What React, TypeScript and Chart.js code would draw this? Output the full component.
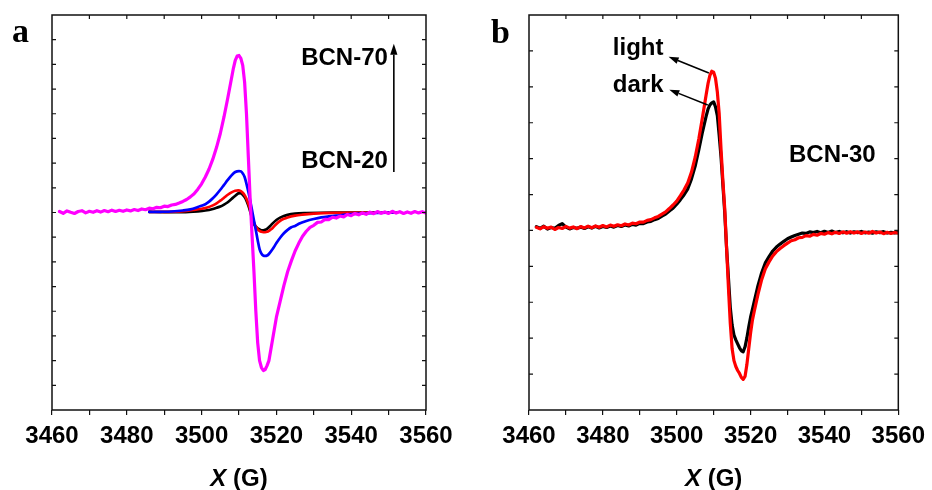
import React, { useEffect, useRef } from 'react';
import { Chart, registerables } from 'chart.js';

Chart.register(...registerables);

// ---------------- data ----------------
const X_MIN = 3460;
const X_MAX = 3560;
const X_TICK_STEP = 10;
const X_LABEL_STEP = 20;
const Y_MIN = -100;
const Y_MAX = 100;
const A_Y_DIVS = 16;
const B_Y_DIVS = 11;

type Pt = [number, number];

// panel a: BCN-70 (magenta)
const BCN70: Pt[] = [
  [3462, 0.5], [3463, -0.4], [3464, 0.8], [3465, 0.1], [3466, -0.5], [3467, 0.5], [3468, 0.9], [3469, -0.2],
  [3470, 0.6], [3471, 0.1], [3472, 0.9], [3473, 0.2], [3474, 1.0], [3475, 0.4], [3476, 1.2], [3477, 0.5],
  [3478, 1.1], [3479, 0.6], [3480, 1.3], [3481, 0.8], [3482, 1.5], [3483, 1.0], [3484, 1.8], [3485, 1.4],
  [3486, 2.2], [3487, 1.9], [3488, 2.6], [3489, 2.4], [3490, 3.2], [3491, 3.0], [3492, 3.8], [3493, 4.1],
  [3494, 4.8], [3495, 5.6], [3496, 6.6], [3497, 7.9], [3498, 9.5], [3499, 11.8], [3500, 14.5], [3501, 18],
  [3502, 22], [3503, 27], [3504, 33], [3505, 40], [3506, 48.5], [3507, 58], [3508, 68], [3508.5, 73],
  [3509, 77], [3509.5, 79.2], [3510, 79.5], [3510.5, 78], [3511, 74.5], [3511.5, 66], [3512, 50], [3512.5, 28],
  [3513, 6], [3513.5, -12], [3514, -30], [3514.5, -50], [3515, -66], [3515.5, -75], [3516, -78.5], [3516.5, -80],
  [3517, -79.5], [3517.5, -77.5], [3518, -75], [3519, -64], [3520, -53], [3521, -45], [3522, -37], [3523, -30],
  [3524, -24.5], [3525, -19.5], [3526, -15.5], [3527, -12], [3528, -9.5], [3529, -7.5], [3530, -6.5], [3531, -5],
  [3532, -4.8], [3533, -3.5], [3534, -3.6], [3535, -2.4], [3536, -2.8], [3537, -1.8], [3538, -2.2], [3539, -1.0],
  [3540, -1.6], [3541, -0.5], [3542, -1.2], [3543, -0.2], [3544, -0.9], [3545, 0.2], [3546, -0.6], [3547, 0.5],
  [3548, -0.4], [3549, 0.3], [3550, -0.5], [3551, 0.6], [3552, -0.3], [3553, 0.4], [3554, -0.5], [3555, 0.3],
  [3556, -0.4], [3557, 0.5], [3558, -0.2], [3559, 0.4], [3560, -0.3],
];

// panel a: blue sample
const BLUE_A: Pt[] = [
  [3486, 0.3], [3489, 0.35], [3492, 0.5], [3495, 1.0], [3497, 1.6], [3499, 2.8], [3501, 4.2], [3502, 5.5],
  [3503, 7.2], [3504, 9.2], [3505, 11.5], [3506, 14], [3507, 16.5], [3508, 18.8], [3509, 20.5], [3510, 21],
  [3510.5, 20.8], [3511, 19.8], [3511.5, 18], [3512, 14.5], [3512.5, 10.5], [3513, 6], [3513.5, 1], [3514, -4],
  [3514.5, -9], [3515, -14], [3515.5, -18.5], [3516, -20.8], [3516.5, -21.8], [3517, -22], [3517.5, -21.8], [3518, -21],
  [3519, -18.5], [3520, -15.5], [3521, -12.8], [3522, -10.5], [3523, -8.8], [3524, -7.5], [3525, -6.8], [3526, -5.7],
  [3528, -4.3], [3530, -3.3], [3532, -2.5], [3534, -2], [3537, -1.4], [3540, -0.8], [3545, -0.3], [3552, 0],
];

// panel a: red sample
const RED_A: Pt[] = [
  [3486, 0.3], [3489, 0.3], [3493, 0.4], [3496, 0.8], [3498, 1.3], [3500, 1.9], [3501.5, 2.5], [3503, 3.6],
  [3504, 4.6], [3505, 6], [3506, 7.5], [3507, 9], [3508, 10.2], [3509, 11], [3509.8, 11.2], [3510.5, 10.8],
  [3511, 10], [3511.5, 8.8], [3512, 7], [3512.5, 4.5], [3513, 1.5], [3513.5, -2], [3514, -5], [3514.5, -7.2],
  [3515, -8.5], [3515.5, -9.3], [3516, -9.8], [3516.5, -10], [3517, -10], [3517.5, -9.8], [3518, -9.3], [3518.5, -8.6],
  [3519, -7.8], [3520, -5.8], [3521, -4.2], [3522, -3.2], [3523, -2.5], [3525, -1.6], [3527, -1.1], [3530, -0.6],
  [3535, -0.2], [3552, 0],
];

// panel a: black sample (BCN-20)
const BLACK_A: Pt[] = [
  [3486, 0.3], [3490, 0.2], [3495, 0.2], [3499, 0.6], [3501, 1.0], [3503, 1.8], [3504, 2.4], [3505, 3.0],
  [3506, 4.0], [3507, 5.2], [3508, 6.8], [3509, 8.5], [3509.8, 9.7], [3510.3, 9.8], [3511, 9], [3511.5, 7.8],
  [3512, 6], [3512.5, 3.5], [3513, 0.5], [3513.5, -3], [3514, -5.8], [3514.5, -7.2], [3515, -8], [3515.5, -8.6],
  [3516, -9], [3516.5, -9], [3517, -8.8], [3517.5, -8.3], [3518, -7.5], [3518.5, -6.5], [3519, -5.5], [3520, -3.8],
  [3521, -2.6], [3522, -1.8], [3523, -1.2], [3525, -0.6], [3528, -0.3], [3535, 0], [3552, 0],
];

// panel b: BCN-30 light (red)
const LIGHT_B: Pt[] = [
  [3462, -7.5], [3463, -8.3], [3464, -7.2], [3465, -8.0], [3466, -7.4], [3467, -8.6], [3468, -7.6], [3469, -8.1],
  [3470, -7.0], [3471, -7.9], [3472, -7.3], [3473, -8.2], [3474, -7.1], [3475, -7.8], [3476, -6.9], [3477, -7.7],
  [3478, -6.8], [3479, -7.5], [3480, -6.6], [3481, -7.3], [3482, -6.4], [3483, -7.0], [3484, -6.2], [3485, -6.7],
  [3486, -5.8], [3487, -6.3], [3488, -5.4], [3489, -5.7], [3490, -4.8], [3491, -4.9], [3492, -4.0], [3493, -3.6],
  [3494, -2.7], [3495, -2.0], [3496, -0.8], [3497, 0.3], [3498, 2.0], [3499, 3.8], [3500, 5.8], [3501, 8.5],
  [3502, 11.5], [3503, 15], [3504, 20.5], [3505, 28], [3506, 37.5], [3507, 48.5], [3508, 60], [3508.5, 65.5],
  [3509, 69.5], [3509.5, 71.5], [3510, 71], [3510.5, 68], [3511, 61], [3511.5, 50], [3512, 32], [3512.5, 16],
  [3513, 2], [3513.5, -18], [3514, -38], [3514.5, -56], [3515, -69], [3515.5, -75], [3516, -78], [3516.5, -80],
  [3517, -81.5], [3517.5, -83.5], [3518, -84.5], [3518.5, -83], [3519, -77], [3519.5, -69], [3520, -61], [3520.5, -54.5],
  [3521, -50], [3522, -41.5], [3523, -34], [3524, -28.5], [3525, -25], [3526, -22], [3527, -19.8], [3528, -18.2],
  [3529, -16.8], [3530, -15.5], [3531, -14.3], [3532, -13.8], [3533, -12.8], [3534, -12.6], [3535, -11.7], [3536, -12.0],
  [3537, -11.1], [3538, -11.5], [3539, -10.6], [3540, -11.0], [3541, -10.2], [3542, -10.8], [3543, -10.0], [3544, -10.6],
  [3545, -9.8], [3546, -10.5], [3547, -9.7], [3548, -10.4], [3549, -9.8], [3550, -10.6], [3551, -9.9], [3552, -10.5],
  [3553, -9.6], [3554, -10.4], [3555, -9.9], [3556, -10.7], [3557, -10.0], [3558, -10.6], [3559, -10.1], [3560, -10.5],
];

// panel b: BCN-30 dark (black)
const DARK_B: Pt[] = [
  [3462, -7.2], [3463, -8.0], [3464, -6.9], [3465, -8.4], [3466, -7.6], [3467, -8.0], [3468, -6.6], [3469, -5.6],
  [3470, -7.4], [3471, -8.3], [3472, -7.6], [3473, -8.0], [3474, -7.4], [3475, -8.1], [3476, -7.2], [3477, -7.9],
  [3478, -7.0], [3479, -7.8], [3480, -7.1], [3481, -7.6], [3482, -6.8], [3483, -7.4], [3484, -6.6], [3485, -7.1],
  [3486, -6.3], [3487, -6.8], [3488, -6.0], [3489, -6.4], [3490, -5.5], [3491, -5.6], [3492, -4.8], [3493, -4.5],
  [3494, -3.6], [3495, -3.0], [3496, -1.8], [3497, -0.8], [3498, 0.8], [3499, 2.2], [3500, 4.2], [3501, 6.5],
  [3502, 9], [3503, 12], [3504, 17], [3505, 23.5], [3506, 32], [3507, 41], [3508, 49], [3508.5, 52.5],
  [3509, 54.5], [3509.5, 55.5], [3510, 56], [3510.5, 53.5], [3511, 49], [3511.5, 39], [3512, 28], [3512.5, 14],
  [3513, 0], [3513.5, -18], [3514, -33], [3514.5, -48], [3515, -57], [3515.5, -62], [3516, -64.5], [3516.5, -66.5],
  [3517, -68.5], [3517.5, -70], [3518, -70.5], [3518.5, -68], [3519, -63.5], [3519.5, -58], [3520, -53], [3520.5, -49],
  [3521, -45], [3522, -37], [3523, -30.5], [3524, -25.5], [3525, -22.3], [3526, -19.5], [3527, -17.5], [3528, -16],
  [3529, -14.6], [3530, -13.3], [3531, -12.4], [3532, -11.6], [3533, -11.0], [3534, -10.4], [3535, -10.6], [3536, -9.8],
  [3537, -10.2], [3538, -9.6], [3539, -10.3], [3540, -9.5], [3541, -10.1], [3542, -9.4], [3543, -10.2], [3544, -9.6],
  [3545, -10.3], [3546, -9.7], [3547, -10.4], [3548, -9.8], [3549, -10.2], [3550, -9.6], [3551, -10.3], [3552, -9.9],
  [3553, -10.5], [3554, -9.8], [3555, -10.2], [3556, -9.7], [3557, -10.4], [3558, -10.0], [3559, -10.3], [3560, -10.1],
];

// ---------------- styling / layout ----------------
const SANS = '"Liberation Sans", Arial, Helvetica, sans-serif';
const SERIF = '"Liberation Serif", "Times New Roman", serif';
const TEXT_SIZE = 24;
const FRAME = '#111111';

type TextItem = { text: string; x: number; y: number; align: CanvasTextAlign };
type ArrowItem = { from: Pt; to: Pt; head: number };

interface PanelSpec {
  letter: string;
  letterX: number;
  letterY: number;
  padLeft: number;
  padRight: number;
  yDivs: number;
  texts: TextItem[];
  arrows: ArrowItem[];
  datasets: { data: Pt[]; color: string; width: number; noisy: boolean }[];
}

const PANEL_A: PanelSpec = {
  letter: 'a',
  letterX: 12,
  letterY: 42,
  padLeft: 52,
  padRight: 40,
  yDivs: A_Y_DIVS,
  texts: [
    { text: 'BCN-70', x: 3549.8, y: 74.7, align: 'right' },
    { text: 'BCN-20', x: 3549.8, y: 22.5, align: 'right' },
  ],
  arrows: [{ from: [3551.4, 20.5], to: [3551.4, 85.5], head: 11 }],
  datasets: [
    { data: BCN70, color: '#FF00FF', width: 3.2, noisy: true },
    { data: BLUE_A, color: '#0000FF', width: 2.7, noisy: false },
    { data: RED_A, color: '#FF0000', width: 2.7, noisy: false },
    { data: BLACK_A, color: '#000000', width: 2.7, noisy: false },
  ],
};

const PANEL_B: PanelSpec = {
  letter: 'b',
  letterX: 25,
  letterY: 43,
  padLeft: 63,
  padRight: 29,
  yDivs: B_Y_DIVS,
  texts: [
    { text: 'light', x: 3482.7, y: 79.7, align: 'left' },
    { text: 'dark', x: 3482.7, y: 61, align: 'left' },
    { text: 'BCN-30', x: 3530.4, y: 25.6, align: 'left' },
  ],
  arrows: [
    { from: [3508.7, 70.6], to: [3497.8, 78.8], head: 10 },
    { from: [3508.4, 54.4], to: [3498.0, 62.2], head: 10 },
  ],
  datasets: [
    { data: LIGHT_B, color: '#FF0000', width: 3.2, noisy: true },
    { data: DARK_B, color: '#000000', width: 3.2, noisy: true },
  ],
};

function drawArrow(ctx: CanvasRenderingContext2D, x1: number, y1: number, x2: number, y2: number, head: number) {
  const ang = Math.atan2(y2 - y1, x2 - x1);
  const hw = head * 0.33;
  const bx = x2 - head * Math.cos(ang);
  const by = y2 - head * Math.sin(ang);
  ctx.beginPath();
  ctx.moveTo(x1, y1);
  ctx.lineTo(bx, by);
  ctx.stroke();
  ctx.beginPath();
  ctx.moveTo(x2, y2);
  ctx.lineTo(bx + hw * Math.sin(ang), by - hw * Math.cos(ang));
  ctx.lineTo(bx - hw * Math.sin(ang), by + hw * Math.cos(ang));
  ctx.closePath();
  ctx.fill();
}

function makeDecor(spec: PanelSpec) {
  return {
    id: 'decor',
    afterDatasetsDraw(chart: any) {
      const { ctx, chartArea: a, scales } = chart;
      const xs = scales.x;
      const ys = scales.y;
      ctx.save();
      // frame
      ctx.strokeStyle = FRAME;
      ctx.lineWidth = 1.5;
      ctx.strokeRect(a.left, a.top, a.right - a.left, a.bottom - a.top);
      // inward ticks
      ctx.lineWidth = 1.2;
      ctx.beginPath();
      for (let v = X_MIN + X_TICK_STEP; v < X_MAX; v += X_TICK_STEP) {
        const px = xs.getPixelForValue(v);
        ctx.moveTo(px, a.top);
        ctx.lineTo(px, a.top + 4);
      }
      const step = (Y_MAX - Y_MIN) / spec.yDivs;
      for (let k = 1; k < spec.yDivs; k++) {
        const py = ys.getPixelForValue(Y_MIN + k * step);
        ctx.moveTo(a.left, py);
        ctx.lineTo(a.left + 4, py);
        ctx.moveTo(a.right, py);
        ctx.lineTo(a.right - 4, py);
      }
      ctx.stroke();

      // annotations
      ctx.fillStyle = '#000';
      ctx.strokeStyle = '#000';
      ctx.font = `bold ${TEXT_SIZE}px ${SANS}`;
      ctx.textBaseline = 'alphabetic';
      for (const t of spec.texts) {
        ctx.textAlign = t.align;
        ctx.fillText(t.text, xs.getPixelForValue(t.x), ys.getPixelForValue(t.y));
      }
      ctx.lineWidth = 1.6;
      for (const ar of spec.arrows) {
        drawArrow(
          ctx,
          xs.getPixelForValue(ar.from[0]), ys.getPixelForValue(ar.from[1]),
          xs.getPixelForValue(ar.to[0]), ys.getPixelForValue(ar.to[1]),
          ar.head,
        );
      }

      // axis title: X (G)
      const cx = (a.left + a.right) / 2;
      const ty = 486;
      const italic = `italic bold 24px ${SANS}`;
      const bold = `bold 24px ${SANS}`;
      ctx.font = italic;
      const w1 = ctx.measureText('X').width;
      ctx.font = bold;
      const w2 = ctx.measureText(' (G)').width;
      const start = cx - (w1 + w2) / 2;
      ctx.textAlign = 'left';
      ctx.font = italic;
      ctx.fillText('X', start, ty);
      ctx.font = bold;
      ctx.fillText(' (G)', start + w1, ty);

      // panel letter
      ctx.font = `bold 34px ${SERIF}`;
      ctx.fillText(spec.letter, spec.letterX, spec.letterY);
      ctx.restore();
    },
  };
}

function makeConfig(spec: PanelSpec): any {
  return {
    type: 'line',
    data: {
      datasets: spec.datasets.map((d) => ({
        data: d.data,
        borderColor: d.color,
        backgroundColor: d.color,
        borderWidth: d.width,
        pointRadius: 0,
        fill: false,
        tension: 0,
        cubicInterpolationMode: d.noisy ? 'default' : 'monotone',
        borderJoinStyle: 'round',
        borderCapStyle: 'round',
      })),
    },
    options: {
      responsive: false,
      animation: false,
      events: [],
      layout: { padding: { left: spec.padLeft, right: spec.padRight, top: 15, bottom: 0 } },
      plugins: { legend: { display: false }, tooltip: { enabled: false } },
      scales: {
        x: {
          type: 'linear',
          min: X_MIN,
          max: X_MAX,
          afterFit: (s: any) => {
            s.height = 80;
          },
          afterBuildTicks: (s: any) => {
            const t = [];
            for (let v = X_MIN; v <= X_MAX; v += X_TICK_STEP) t.push({ value: v });
            s.ticks = t;
          },
          ticks: {
            autoSkip: false,
            maxRotation: 0,
            minRotation: 0,
            color: '#000',
            padding: 7,
            font: { family: SANS, size: 24, weight: 'bold' },
            callback: (v: number) => (v % X_LABEL_STEP === 0 ? String(v) : ''),
          },
          grid: {
            display: true,
            drawOnChartArea: false,
            drawTicks: true,
            tickLength: 5,
            color: FRAME,
            lineWidth: 1.2,
          },
          border: { display: false },
        },
        y: { type: 'linear', min: Y_MIN, max: Y_MAX, display: false },
      },
    },
    plugins: [makeDecor(spec)],
  };
}

function Panel({ spec, left }: { spec: PanelSpec; left: number }) {
  const ref = useRef<HTMLCanvasElement | null>(null);
  useEffect(() => {
    if (!ref.current) return;
    const chart = new Chart(ref.current, makeConfig(spec));
    return () => chart.destroy();
  }, [spec]);
  return (
    <canvas
      ref={ref}
      width={466}
      height={490}
      style={{ position: 'absolute', left, top: 0, width: 466, height: 490, display: 'block' }}
    />
  );
}

export default function App() {
  return (
    <div style={{ position: 'fixed', left: 0, top: 0, width: 932, height: 490, background: '#fff' }}>
      <Panel spec={PANEL_A} left={0} />
      <Panel spec={PANEL_B} left={466} />
    </div>
  );
}
